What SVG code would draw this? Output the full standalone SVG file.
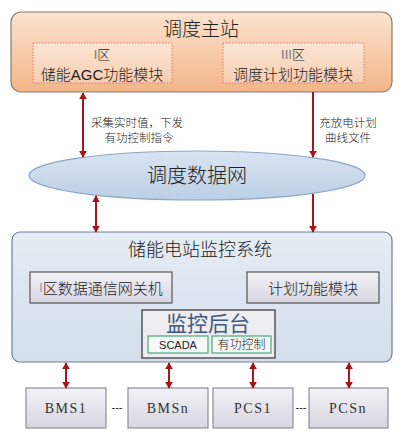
<svg xmlns="http://www.w3.org/2000/svg" width="404" height="446" viewBox="0 0 404 446">
<defs>
<linearGradient id="gOrange" x1="0" y1="0" x2="0" y2="1"><stop offset="0" stop-color="#fbe3cf"/><stop offset="1" stop-color="#f2b587"/></linearGradient>
<linearGradient id="gOrangeIn" x1="0" y1="0" x2="0" y2="1"><stop offset="0" stop-color="#fbe6d6"/><stop offset="1" stop-color="#f6cdb0"/></linearGradient>
<linearGradient id="gEll" x1="0" y1="0" x2="0" y2="1"><stop offset="0" stop-color="#d9e4f1"/><stop offset="1" stop-color="#bccfe5"/></linearGradient>
<linearGradient id="gSys" x1="0" y1="0" x2="0" y2="1"><stop offset="0" stop-color="#e5ecf4"/><stop offset="1" stop-color="#d3deea"/></linearGradient>
<linearGradient id="gGray" x1="0" y1="0" x2="0" y2="1"><stop offset="0" stop-color="#f2f1f6"/><stop offset="1" stop-color="#d7d6e2"/></linearGradient>
<marker id="ah" viewBox="0 0 10 10" refX="9" refY="5" markerWidth="7" markerHeight="8" markerUnits="userSpaceOnUse" orient="auto-start-reverse" preserveAspectRatio="none"><path d="M0,0 L10,5 L0,10 Z" fill="#a3161c"/></marker>
</defs>
<style>
.cn{font-family:"Liberation Sans","Noto Sans CJK SC",sans-serif;fill:#222;text-anchor:middle;dominant-baseline:central;font-weight:300}
.conn{stroke:#a3161c;stroke-width:2;fill:none}
.dot{fill:url(#gOrangeIn);stroke:#e2746a;stroke-width:1;stroke-dasharray:1.5 1.5}
.dev{fill:url(#gGray);stroke:#8e8e9c;stroke-width:1.2}
.devt{font-family:"Liberation Serif","Noto Sans CJK SC",serif;font-size:14px;fill:#333;text-anchor:middle;dominant-baseline:central;letter-spacing:1.5px}
.sub{fill:#f4f8f6;stroke:#4aa878;stroke-width:1.2}
</style>
<rect width="404" height="446" fill="#ffffff"/>

<g id="dispatch-master">
<rect x="11" y="12" width="381" height="80" rx="10" fill="url(#gOrange)" stroke="#8a7a70" stroke-width="1.2"/>
<text class="cn" x="201" y="29" font-size="19">调度主站</text>
</g>
<g id="agc-module">
<rect class="dot" x="33" y="43" width="139" height="40"/>
<text class="cn" x="102" y="54" font-size="13"><tspan fill="#777">I</tspan>区</text>
<text class="cn" x="102" y="74" font-size="15">储能AGC功能模块</text>
</g>
<g id="plan-module-master">
<rect class="dot" x="223" y="43" width="141" height="40"/>
<text class="cn" x="293" y="54" font-size="13"><tspan fill="#777">III</tspan>区</text>
<text class="cn" x="293" y="74" font-size="15">调度计划功能模块</text>
</g>

<g id="dispatch-network">
<ellipse cx="197" cy="175.5" rx="168" ry="24.5" fill="url(#gEll)" stroke="#8ea6c6" stroke-width="1.2"/>
<text class="cn" x="197" y="176" font-size="20">调度数据网</text>
</g>

<g id="station-system">
<rect x="12" y="232" width="380" height="130" rx="8" fill="url(#gSys)" stroke="#6f7f8f" stroke-width="1.2"/>
<text class="cn" x="200" y="250" font-size="18">储能电站监控系统</text>
</g>
<g id="gateway">
<rect x="30" y="272" width="142" height="31" fill="url(#gGray)" stroke="#555" stroke-width="1.2"/>
<text class="cn" x="101" y="288" font-size="15"><tspan fill="#999" font-size="12">I</tspan>区数据通信网关机</text>
</g>
<g id="plan-module">
<rect x="247" y="272" width="132" height="31" fill="url(#gGray)" stroke="#555" stroke-width="1.2"/>
<text class="cn" x="313" y="288" font-size="15">计划功能模块</text>
</g>
<g id="monitor-backend">
<rect x="142" y="310" width="133" height="48" fill="#ececf1" stroke="#333" stroke-width="1.2"/>
<text class="cn" x="208" y="323" font-size="21" style="fill:#3d5a80;font-weight:400">监控后台</text>
</g>
<g id="scada">
<rect class="sub" x="148" y="336" width="60" height="17"/>
<text class="cn" x="178" y="344.5" font-size="11">SCADA</text>
</g>
<g id="active-control">
<rect class="sub" x="212" y="336" width="59" height="17"/>
<text class="cn" x="241.5" y="344.5" font-size="12">有功控制</text>
</g>

<g id="bms1"><rect class="dev" x="26" y="388" width="80" height="40"/><text class="devt" x="66" y="408">BMS1</text></g>
<g id="bmsn"><rect class="dev" x="128" y="388" width="80" height="40"/><text class="devt" x="168" y="408">BMSn</text></g>
<g id="pcs1"><rect class="dev" x="213" y="388" width="80" height="40"/><text class="devt" x="253" y="408">PCS1</text></g>
<g id="pcsn"><rect class="dev" x="309" y="388" width="79" height="40"/><text class="devt" x="348" y="408">PCSn</text></g>
<text class="cn" x="117" y="407" font-size="11">---</text>
<text class="cn" x="301" y="407" font-size="11">---</text>

<g id="connectors">
<line class="conn" x1="83" y1="93" x2="83" y2="157" marker-start="url(#ah)" marker-end="url(#ah)"/>
<line class="conn" x1="313" y1="92" x2="313" y2="157" marker-end="url(#ah)"/>
<line class="conn" x1="96" y1="196" x2="96" y2="232" marker-start="url(#ah)" marker-end="url(#ah)"/>
<line class="conn" x1="313" y1="194" x2="313" y2="232" marker-end="url(#ah)"/>
<line class="conn" x1="66" y1="363" x2="66" y2="388" marker-start="url(#ah)" marker-end="url(#ah)"/>
<line class="conn" x1="169" y1="363" x2="169" y2="388" marker-start="url(#ah)" marker-end="url(#ah)"/>
<line class="conn" x1="253" y1="363" x2="253" y2="388" marker-start="url(#ah)" marker-end="url(#ah)"/>
<line class="conn" x1="349" y1="363" x2="349" y2="388" marker-start="url(#ah)" marker-end="url(#ah)"/>
<text class="cn" x="137" y="123" font-size="11.5">采集实时值，下发</text>
<text class="cn" x="139" y="138" font-size="11.5">有功控制指令</text>
<text class="cn" x="348" y="123" font-size="11.5">充放电计划</text>
<text class="cn" x="348" y="138" font-size="11.5">曲线文件</text>
</g>
</svg>
